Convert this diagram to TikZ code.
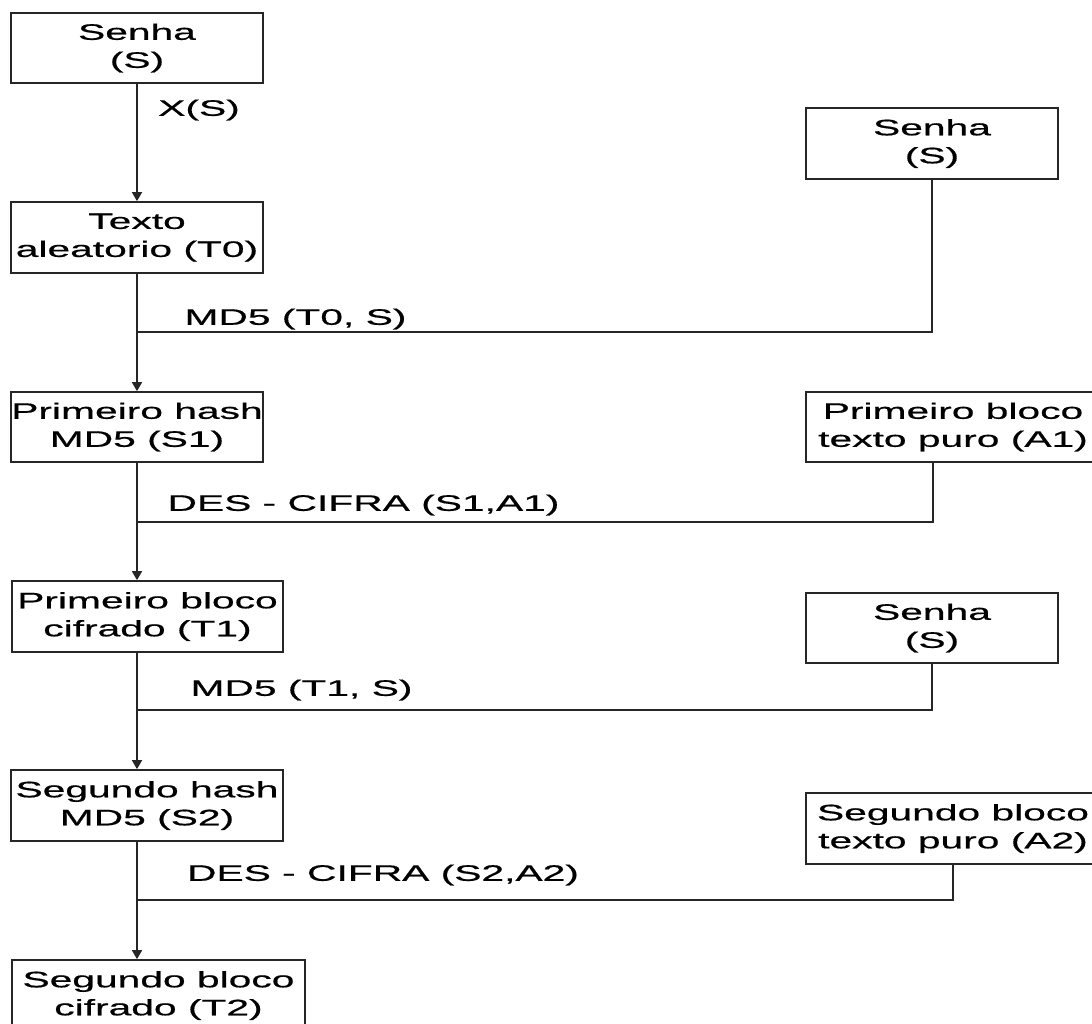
\documentclass[tikz,border=0pt]{standalone}
\usepackage{fontspec}
\setmainfont{Liberation Sans}[FakeStretch=1.82,FakeBold=0.6]
\usetikzlibrary{arrows.meta}
\begin{document}
\begin{tikzpicture}[x=0.5pt,y=-0.5pt,
  box/.style={draw=black!85, line width=0.85pt, inner sep=0pt, align=center, font=\fontsize{11.2}{14}\selectfont},
  lbl/.style={inner sep=0pt, font=\fontsize{11.2}{14}\selectfont},
  link/.style={draw=black!85, line width=0.85pt},
  arr/.style={link, -{Triangle[width=5pt,length=4.5pt]}}]
\path[use as bounding box, clip] (0,0) rectangle (1092,1023);
\fill[white] (0,0) rectangle (1092,1023);
% left column
\node[box, minimum width=126pt, minimum height=35pt] (A) at (137,48) {Senha\\(S)};
\node[box, minimum width=126pt, minimum height=35.5pt] (B) at (137,237.5) {Texto\\aleatorio (T0)};
\node[box, minimum width=126pt, minimum height=35pt] (C) at (137,427) {Primeiro hash\\MD5 (S1)};
\node[box, minimum width=135.5pt, minimum height=35.5pt] (D) at (147.5,616.5) {Primeiro bloco\\cifrado (T1)};
\node[box, minimum width=136pt, minimum height=35.5pt] (E) at (147,805.5) {Segundo hash\\MD5 (S2)};
\node[box, minimum width=146.5pt, minimum height=35.5pt] (F) at (158.5,995.5) {Segundo bloco\\cifrado (T2)};
% right column
\node[box, minimum width=126pt, minimum height=35.5pt] (R1) at (932,143.5) {Senha\\(S)};
\node[box, minimum width=147pt, minimum height=35pt] (R2) at (953,427) {Primeiro bloco\\texto puro (A1)};
\node[box, minimum width=126pt, minimum height=35pt] (R3) at (932,628) {Senha\\(S)};
\node[box, minimum width=147pt, minimum height=35.5pt] (R4) at (953,828.5) {Segundo bloco\\texto puro (A2)};
% junction points
\coordinate (j1) at (137,332);
\coordinate (j2) at (137,522);
\coordinate (j3) at (137,710);
\coordinate (j4) at (137,900);
\coordinate (k2) at (933,462);
% main flow
\draw[arr] (A.south) -- (B.north);
\draw[arr] (B.south) -- (B.south |- C.north);
\draw[arr] (C.south) -- (C.south |- D.north);
\draw[arr] (B.south |- D.south) -- (B.south |- E.north);
\draw[arr] (B.south |- E.south) -- (B.south |- F.north);
% side inputs
\draw[link] (R1.south) |- (j1);
\draw[link] (k2) |- (j2);
\draw[link] (R3.south) |- (j3);
\draw[link] (R4.south) |- (j4);
% labels
\node[lbl] (l0) at (199,110) {X(S)};
\node[lbl] (l1) at (295.5,319) {MD5 (T0, S)};
\node[lbl] (l2) at (363.5,505) {DES - CIFRA (S1,A1)};
\node[lbl] (l3) at (301.5,690) {MD5 (T1, S)};
\node[lbl] (l4) at (383,875) {DES - CIFRA (S2,A2)};
\end{tikzpicture}
\end{document}
